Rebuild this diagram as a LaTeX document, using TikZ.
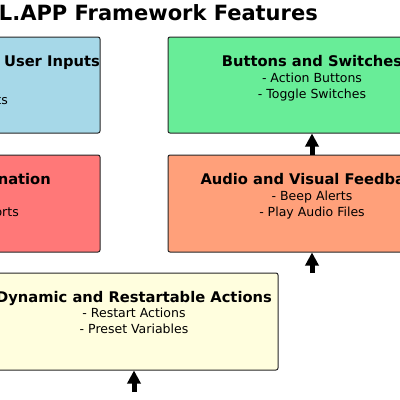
\documentclass[tikz,border=0pt]{standalone}
\usepackage{fontspec}
\setmainfont{DejaVu Sans}
\usetikzlibrary{arrows.meta}
\definecolor{cblue}{RGB}{166,216,232}
\definecolor{cgreen}{RGB}{104,237,152}
\definecolor{cred}{RGB}{255,120,120}
\definecolor{corange}{RGB}{255,160,122}
\definecolor{cyellow}{RGB}{255,254,222}
\begin{document}
\begin{tikzpicture}[x=1pt,y=-1pt,
  box/.style={draw=black!85, line width=1pt, rounded corners=2pt, minimum width=288pt, inner sep=0pt},
  ttl/.style={inner sep=0pt, anchor=base, font=\bfseries\fontsize{14.7}{17}\selectfont},
  bdy/.style={inner sep=0pt, anchor=base, font=\fontsize{12.5}{15}\selectfont},
  arr/.style={line width=5pt, -{Triangle[width=13pt,length=13pt]}}]
\useasboundingbox (0,0) rectangle (400,400);
\clip (0,0) rectangle (400,400);
\fill[white] (0,0) rectangle (400,400);
% title
\node[inner sep=0pt, anchor=base east, font=\bfseries\fontsize{21}{25}\selectfont] (title) at (318,20.7) {L.APP Framework Features};
% boxes
\node[box, fill=cblue, minimum height=96pt] (inputs) at (-44,85) {};
\node[box, fill=cgreen, minimum height=96pt] (buttons) at (312,85) {};
\node[box, fill=cred, minimum height=97pt] (info) at (-44,203.5) {};
\node[box, fill=corange, minimum height=97pt] (audio) at (312,203.5) {};
\node[box, fill=cyellow, minimum height=97pt] (dynamic) at (134,321.5) {};
% texts
\node[ttl, anchor=base east] (t1) at (100,66) {User Inputs};
\node[bdy, anchor=base east] (b1) at (8,104) {ts};
\node[ttl] (t3) at (312,66) {Buttons and Switches};
\node[bdy] (b3a) at (312,82) {- Action Buttons};
\node[bdy] (b3b) at (312,98) {- Toggle Switches};
\node[ttl, anchor=base east] (t2) at (51,184) {nation};
\node[bdy, anchor=base east] (b2) at (19,216) {orts};
\node[ttl] (t4) at (312,184.3) {Audio and Visual Feedback};
\node[bdy] (b4a) at (312,200) {- Beep Alerts};
\node[bdy] (b4b) at (312,216) {- Play Audio Files};
\node[ttl] (t5) at (134,302.7) {Dynamic and Restartable Actions};
\node[bdy] (b5a) at (134,317.3) {- Restart Actions};
\node[bdy] (b5b) at (134,333.3) {- Preset Variables};
% arrows
\coordinate (s2) at (312,273);
\coordinate (s3) at (134,392);
\draw[arr] (audio.north) -- (buttons.south);
\draw[arr] (s2) -- (audio.south);
\draw[arr] (s3) -- (dynamic.south);
\end{tikzpicture}
\end{document}
